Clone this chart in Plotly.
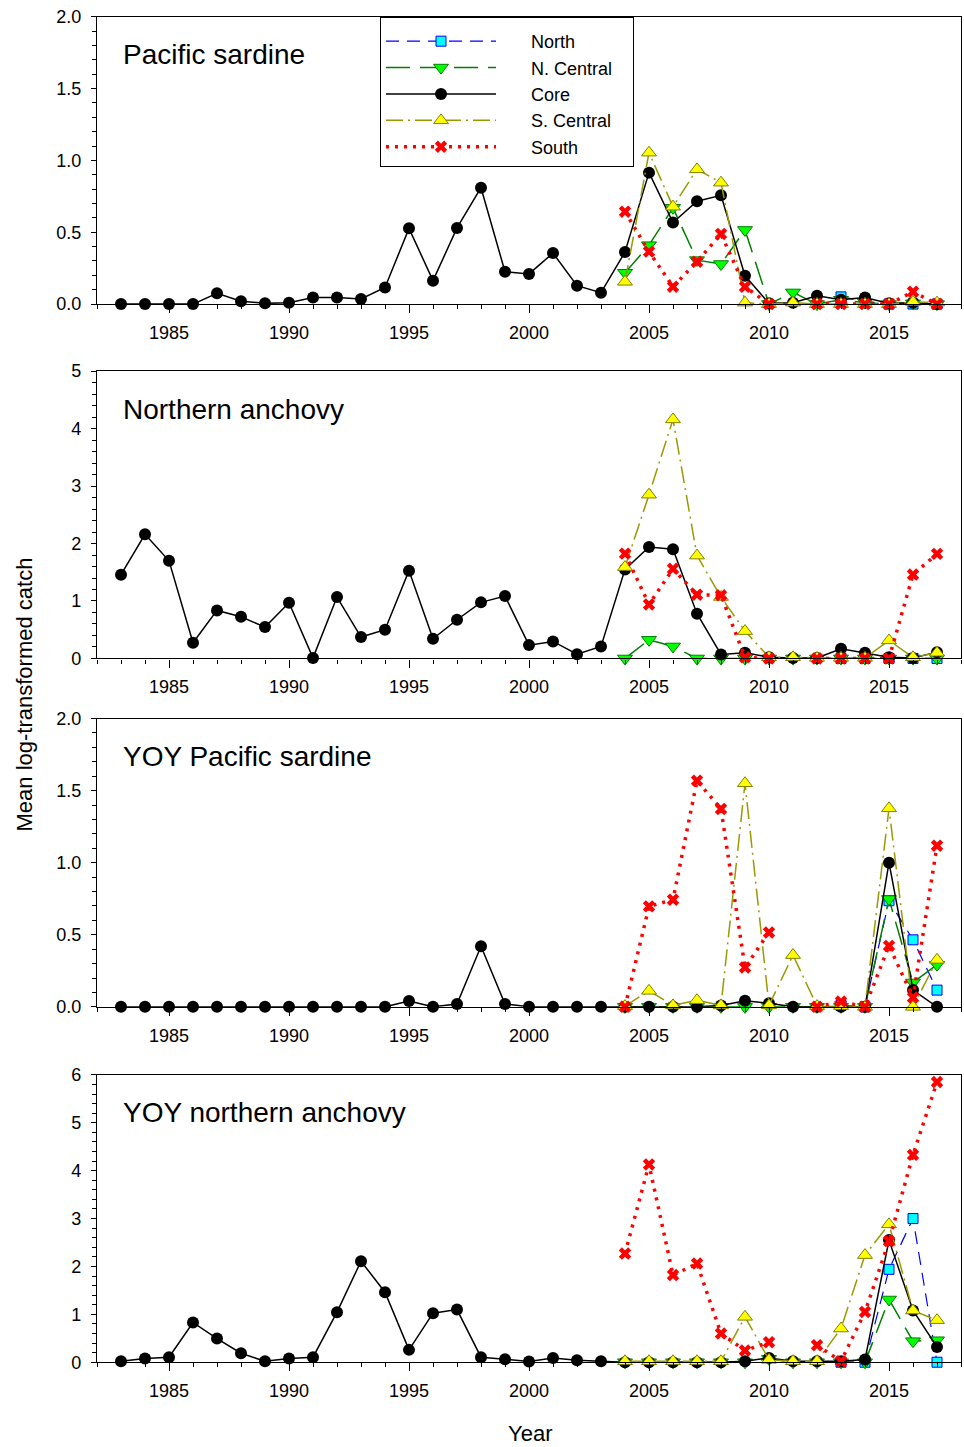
import plotly.graph_objects as go

# ---------------- data ----------------
years = list(range(1983, 2018))
years_recent = list(range(2004, 2018))
years_north = list(range(2013, 2018))

# Panel 1: Pacific sardine
sardine_core = [0.0, 0.0, 0.0, 0.0, 0.075, 0.02, 0.005, 0.01, 0.045, 0.045,
                0.035, 0.115, 0.527, 0.163, 0.53, 0.81, 0.225, 0.21, 0.355, 0.128,
                0.079, 0.362, 0.915, 0.567, 0.716, 0.757, 0.197, 0.005, 0.01, 0.058,
                0.03, 0.045, 0.005, 0.01, 0.0]
sardine_ncentral = [0.218, 0.41, 0.67, 0.306, 0.279, 0.516, 0.0, 0.081, 0.0, 0.03, 0.01, 0.0, 0.005, 0.0]
sardine_scentral = [0.155, 1.054, 0.678, 0.938, 0.845, 0.01, 0.0, 0.01, 0.0, 0.0, 0.0, 0.0, 0.015, 0.01]
sardine_south = [0.643, 0.365, 0.121, 0.295, 0.488, 0.12, 0.0, None, 0.0, 0.0, 0.0, 0.0, 0.086, 0.0]
sardine_north = [0.05, 0.02, 0.0, 0.0, 0.0]

# Panel 2: Northern anchovy
anchovy_core = [1.458, 2.16, 1.70, 0.273, 0.836, 0.726, 0.546, 0.97, 0.01, 1.068,
                0.372, 0.5, 1.528, 0.343, 0.674, 0.976, 1.086, 0.232, 0.296, 0.075,
                0.209, 1.55, 1.94, 1.90, 0.778, 0.07, 0.099, 0.023, 0.01, 0.01,
                0.168, 0.099, 0.02, 0.01, 0.11]
anchovy_ncentral = [0.0, 0.325, 0.209, 0.0, 0.0, 0.0, 0.0, 0.0, 0.0, 0.0, 0.0, 0.0, 0.0, 0.0]
anchovy_scentral = [1.59, 2.85, 4.16, 1.79, 1.07, 0.476, 0.02, 0.02, 0.01, 0.01, 0.01, 0.314, 0.02, 0.10]
anchovy_south = [1.824, 0.94, 1.56, 1.11, 1.10, 0.02, 0.0, None, 0.0, 0.0, 0.0, 0.0, 1.46, 1.82]
anchovy_north = [0.0, 0.0, 0.0, 0.0, 0.0]

# Panel 3: YOY Pacific sardine
yoy_sardine_core = [0.0, 0.0, 0.0, 0.0, 0.0, 0.0, 0.0, 0.0, 0.0, 0.0,
                    0.0, 0.0, 0.04, 0.0, 0.02, 0.42, 0.02, 0.0, 0.0, 0.0,
                    0.0, 0.0, 0.0, 0.0, 0.0, 0.01, 0.042, 0.025, 0.0, 0.0,
                    0.0, 0.0, 1.0, 0.116, 0.0]
yoy_sardine_ncentral = [0.0, 0.0, 0.0, 0.0, 0.0, 0.0, 0.0, 0.0, 0.0, 0.0, 0.0, 0.748, 0.169, 0.292]
yoy_sardine_scentral = [0.005, 0.111, 0.01, 0.046, 0.01, 1.551, 0.01, 0.359, 0.005, 0.005, 0.0, 1.377, 0.0, 0.326]
yoy_sardine_south = [0.0, 0.697, 0.743, 1.569, 1.373, 0.273, 0.516, None, 0.0, 0.037, 0.0, 0.423, 0.065, 1.118]
yoy_sardine_north = [0.01, 0.0, 0.736, 0.465, 0.116]

# Panel 4: YOY northern anchovy
yoy_anchovy_core = [0.02, 0.077, 0.105, 0.83, 0.495, 0.188, 0.02, 0.077, 0.105, 1.045,
                    2.11, 1.463, 0.258, 1.024, 1.10, 0.105, 0.063, 0.015, 0.09, 0.042,
                    0.02, 0.0, 0.0, 0.0, 0.0, 0.0, 0.02, 0.09, 0.02, 0.02,
                    0.02, 0.056, 2.55, 1.08, 0.32]
yoy_anchovy_ncentral = [0.0, 0.0, 0.0, 0.0, 0.0, 0.0, 0.07, 0.0, 0.0, 0.0, 0.0, 1.31, 0.44, 0.46]
yoy_anchovy_scentral = [0.02, 0.02, 0.02, 0.02, 0.02, 0.948, 0.05, 0.02, 0.02, 0.704, 2.237, 2.88, 1.08, 0.878]
yoy_anchovy_south = [2.27, 4.13, 1.82, 2.06, 0.60, 0.244, 0.418, None, 0.355, 0.02, 1.05, 2.53, 4.33, 5.85]
yoy_anchovy_north = [0.0, 0.0, 1.94, 3.0, 0.0]

panel_titles = ["Pacific sardine", "Northern anchovy", "YOY Pacific sardine", "YOY northern anchovy"]
y_ranges = [2.0, 5.0, 2.0, 6.0]
y_dticks = [0.5, 1, 0.5, 1]
y_minor = [0.1, 0.2, 0.1, 0.2]
y_formats = [".1f", "d", ".1f", "d"]

panels = [
    (sardine_north, sardine_ncentral, sardine_core, sardine_scentral, sardine_south),
    (anchovy_north, anchovy_ncentral, anchovy_core, anchovy_scentral, anchovy_south),
    (yoy_sardine_north, yoy_sardine_ncentral, yoy_sardine_core, yoy_sardine_scentral, yoy_sardine_south),
    (yoy_anchovy_north, yoy_anchovy_ncentral, yoy_anchovy_core, yoy_anchovy_scentral, yoy_anchovy_south),
]

# ---------------- layout helpers ----------------
W, H = 964, 1447
FONT = "Liberation Sans, Arial, sans-serif"
# vertical correction for the capture (measured): screen_y = 10.25 + 0.9851 * fig_y
Y_OFF, Y_SCALE = 10.25, 0.9851


def px(xref):
    return xref / W


def py(yref):
    return 1 - ((yref - Y_OFF) / Y_SCALE) / H


NB = "\u00a0"
series_styles = [
    dict(name="North", x=years_north,
         line=dict(color="#0000FF", width=1.2, dash="13px,8px"),
         marker=dict(symbol="square", size=10, color="#00FFFF", line=dict(color="#0000FF", width=1))),
    dict(name="N. Central", x=years_recent,
         line=dict(color="#008000", width=1.5, dash="24px,10px"),
         marker=dict(symbol="triangle-down", size=13, color="#00FF00", line=dict(color="#008000", width=1))),
    dict(name="Core", x=years,
         line=dict(color="#000000", width=1.5),
         marker=dict(symbol="circle", size=12, color="#000000", line=dict(color="#000000", width=0))),
    dict(name="S. Central", x=years_recent,
         line=dict(color="#999900", width=1.5, dash="17px,5px,2px,5px"),
         marker=dict(symbol="triangle-up", size=13, color="#FFFF00", line=dict(color="#808000", width=1))),
    dict(name="South", x=years_recent,
         line=dict(color="#FF0000", width=3.5, dash="3px,6px"),
         marker=dict(symbol="x", size=11, color="#FF0000", line=dict(width=0))),
]

boxes = [(17, 304), (371, 658), (718, 1006), (1074, 1361)]
x_left, x_right = 97, 961

fig = go.Figure()
layout = dict(
    width=W, height=H, autosize=False,
    margin=dict(l=0, r=0, t=0, b=0),
    paper_bgcolor="white", plot_bgcolor="white",
    font=dict(family=FONT, size=18, color="black"),
    showlegend=True,
    legend=dict(
        x=px(380), y=py(17), xanchor="left", yanchor="top",
        bgcolor="white", bordercolor="black", borderwidth=1,
        font=dict(family=FONT, size=18, color="black"),
        itemwidth=110, tracegroupgap=0,
        title=dict(text=NB, font=dict(size=4)),
    ),
)

annotations = []
for i, (data, title) in enumerate(zip(panels, panel_titles)):
    ax = "" if i == 0 else str(i + 1)
    for st, vals in zip(series_styles, data):
        fig.add_trace(go.Scatter(
            x=st["x"], y=vals, name=NB * 6 + st["name"] + NB * 3, mode="lines+markers",
            line=st["line"], marker=st["marker"],
            xaxis="x" + ax, yaxis="y" + ax,
            showlegend=(i == 0), cliponaxis=False, connectgaps=False,
        ))
    top, bot = boxes[i]
    layout["xaxis" + ax] = dict(
        domain=[px(x_left), px(x_right)], anchor="y" + ax,
        range=[1982, 2018], tick0=1985, dtick=5,
        showline=True, linecolor="black", linewidth=1.3, mirror=True,
        ticks="outside", ticklen=8, tickwidth=1.3, tickcolor="black",
        minor=dict(dtick=1, tick0=1983, ticks="outside", ticklen=4, tickwidth=1, tickcolor="black"),
        showgrid=False, zeroline=False, ticklabelstandoff=4,
        tickfont=dict(family=FONT, size=18, color="black"),
    )
    layout["yaxis" + ax] = dict(
        domain=[py(bot), py(top)], anchor="x" + ax,
        range=[0, y_ranges[i]], dtick=y_dticks[i], tick0=0, tickformat=y_formats[i],
        showline=True, linecolor="black", linewidth=1.3, mirror=True,
        ticks="outside", ticklen=5, tickwidth=1.3, tickcolor="black",
        minor=dict(dtick=y_minor[i], ticks="outside", ticklen=4, tickwidth=1, tickcolor="black"),
        showgrid=False, zeroline=False, ticklabelstandoff=6,
        tickfont=dict(family=FONT, size=18, color="black"),
    )
    annotations.append(dict(
        text=title, x=px(121), y=py(top + 38), xref="paper", yref="paper",
        xanchor="left", yanchor="middle", showarrow=False,
        font=dict(family=FONT, size=28, color="black"),
    ))

annotations.append(dict(
    text="Year", x=px(530), y=py(1432), xref="paper", yref="paper",
    xanchor="center", yanchor="middle", showarrow=False,
    font=dict(family=FONT, size=22, color="black"),
))
annotations.append(dict(
    text="Mean log-transformed catch", x=px(24), y=py(694), xref="paper", yref="paper",
    xanchor="center", yanchor="middle", showarrow=False, textangle=-90,
    font=dict(family=FONT, size=22, color="black"),
))
layout["annotations"] = annotations
fig.update_layout(**layout)
fig.write_html(
    "out.html",
    config={"displayModeBar": False},
    post_script="document.body.style.margin='0';document.body.style.padding='0';"
                "document.documentElement.style.overflow='hidden';",
)
